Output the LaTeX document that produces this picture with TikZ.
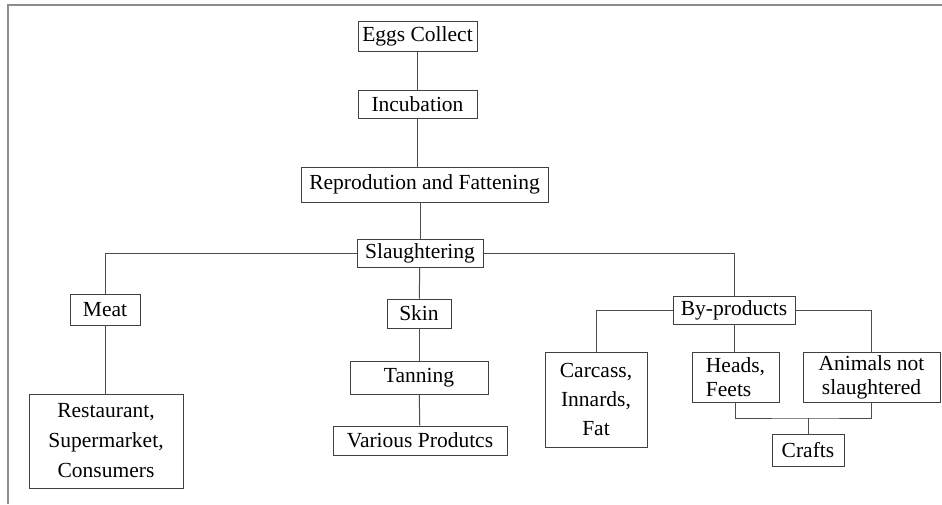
\documentclass[tikz,border=0pt]{standalone}
\usepackage{fontspec}
\setmainfont{Liberation Serif}
\begin{document}
\begin{tikzpicture}[x=1pt,y=-1pt,
        box/.style={draw=black!75,line width=0.9pt,inner sep=0pt,align=center,
            font=\fontsize{21.5}{24}\selectfont},
        link/.style={draw=black!70,line width=1pt},
        frame/.style={draw=black!45,line width=2pt}]
        \useasboundingbox (0,0) rectangle (942,504);
        \draw[frame] (942,5) -- (8,5) -- (8,504);

        % main chain
        \node[box,minimum width=119pt,minimum height=30pt] (eggs) at (417.5,36) {Eggs Collect};
        \node[box,minimum width=119pt,minimum height=28pt] (incub) at (417.5,104) {Incubation};
        \node[box,minimum width=247pt,minimum height=35pt] (repro) at (424.5,184.5) {Reprodution and Fattening};
        \node[box,minimum width=126pt,minimum height=28pt] (slaugh) at (420,253) {Slaughtering};
        \draw[link] (eggs) -- (incub);
        \draw[link] (incub.south) -- (incub.south |- repro.north);
        \draw[link] (slaugh.north |- repro.south) -- (slaugh);

        % meat branch
        \node[box,minimum width=70pt,minimum height=31pt] (meat) at (105,309.5) {Meat};
        \node[box,minimum width=154pt,minimum height=94pt,
            font=\fontsize{21.5}{30}\selectfont] (shops) at (106,441) {Restaurant,\\Supermarket,\\Consumers};
        \draw[link] (slaugh.west) -| (meat.north);
        \draw[link] (meat) -- (meat |- shops.north);

        % skin branch
        \node[box,minimum width=64pt,minimum height=29pt] (skin) at (419,313.5) {Skin};
        \node[box,minimum width=138pt,minimum height=33pt] (tanning) at (419,377.5) {Tanning};
        \node[box,minimum width=174pt,minimum height=29pt] (various) at (420,440.5) {Various Produtcs};
        \draw[link] (slaugh) -- (skin);
        \draw[link] (skin) -- (tanning);
        \draw[link] (tanning) -- (various);

        % by-products branch
        \node[box,minimum width=122pt,minimum height=28pt] (byprod) at (734,310) {By-products};
        \node[box,minimum width=102pt,minimum height=95pt,
            font=\fontsize{21.5}{29}\selectfont] (carcass) at (596,399.5) {Carcass,\\Innards,\\Fat};
        \node[box,minimum width=87pt,minimum height=50pt,align=left] (heads) at (735.5,377) {Heads,\\Feets};
        \node[box,minimum width=137pt,minimum height=50pt] (animals) at (871.5,377) {Animals not\\slaughtered};
        \node[box,minimum width=72pt,minimum height=32pt] (crafts) at (808,450) {Crafts};
        \draw[link] (slaugh.east) -| (byprod.north);
        \draw[link] (byprod.west) -| (carcass.north);
        \draw[link] (byprod) -- (byprod |- heads.north);
        \draw[link] (byprod.east) -| (animals.north);
        \coordinate (fork) at (808,418);
        \draw[link] (heads.south) |- (fork) -| (animals.south);
        \draw[link] (fork) -- (crafts);
    \end{tikzpicture}
\end{document}
